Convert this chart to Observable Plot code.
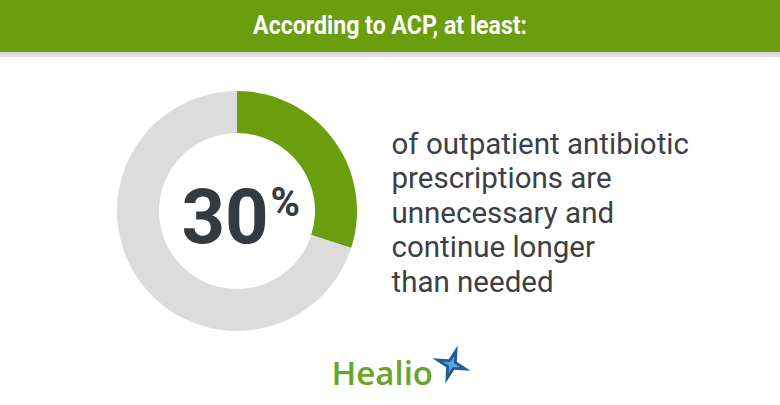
<!DOCTYPE html>
<html>
<head>
<meta charset="utf-8">
<script src="https://cdn.jsdelivr.net/npm/d3@7"></script>
<script src="https://cdn.jsdelivr.net/npm/@observablehq/plot@0.6"></script>
<style>
  html, body { margin: 0; padding: 0; background: #ffffff; width: 780px; height: 405px; overflow: hidden; }
  #header { height: 52px; background: #6a9e0e; display: flex; align-items: center; justify-content: center; }
  #header span { font-family: Roboto, sans-serif; font-weight: 700; font-size: 25px; color: #ffffff; display: inline-block; transform-origin: center; white-space: nowrap; margin-top: -2px; }
  #strip { height: 5px; background: linear-gradient(#d6d6d6, #e4e4e4); }
  #chart svg { display: block; }
</style>
</head>
<body>
<div id="header"><span id="title"></span></div>
<div id="strip"></div>
<div id="chart"></div>
<script>
// ---- data ----
const titleText = "According to ACP, at least:";
const shareLabels = ["Unnecessary / too long", "Other"];
const shareValues = [30, 70];
const shareColors = ["#6a9e0e", "#dcdcdc"];
const headlineValue = "30";
const headlineUnit = "%";
const descriptionLines = [
  "of outpatient antibiotic",
  "prescriptions are",
  "unnecessary and",
  "continue longer",
  "than needed"
];
const brandName = "Healio";

// ---- header ----
const title = document.getElementById("title");
title.textContent = titleText;
const w = title.getBoundingClientRect().width;
title.style.transform = `scaleX(${274 / w})`;

// ---- layout (page pixel coordinates) ----
const top0 = 57;
const W = 780, H = 405 - top0;
const C = {x: 237, y: 211, rOut: 120, rIn: 78};

function donut(index, scales, values, dimensions) {
  const cx = scales.x(C.x), cy = scales.y(C.y);
  const rOut = scales.x(C.x + C.rOut) - cx;
  const rIn = scales.x(C.x + C.rIn) - cx;
  const arcs = d3.pie().sort(null).startAngle(0).endAngle(2 * Math.PI)(shareValues);
  const arc = d3.arc().innerRadius(rIn).outerRadius(rOut);
  const g = d3.create("svg:g").attr("transform", `translate(${cx},${cy})`);
  g.selectAll("path").data(arcs).join("path")
    .attr("d", arc)
    .attr("fill", (d, i) => scales.color(shareLabels[i]));
  return g.node();
}

const star4 = {
  draw(context, size) {
    const R = Math.sqrt(size / Math.PI);
    const r = R * 0.3;
    for (let i = 0; i < 8; i++) {
      const a = (i * Math.PI) / 4 - Math.PI / 2;
      const rr = i % 2 === 0 ? R : r;
      const x = rr * Math.cos(a), y = rr * Math.sin(a);
      if (i === 0) context.moveTo(x, y); else context.lineTo(x, y);
    }
    context.closePath();
  }
};

const plot = Plot.plot({
  width: W,
  height: H,
  margin: 0,
  x: {domain: [0, W], range: [0, W], axis: null},
  y: {domain: [top0, 405], range: [0, H], axis: null},
  color: {domain: shareLabels, range: shareColors},
  marks: [
    donut,
    Plot.text([headlineValue], {
      x: 181, y: 242, text: d => d, textAnchor: "start", lineAnchor: "bottom",
      fontFamily: "Roboto", fontWeight: 700, fontSize: 76, fill: "#353a3e"
    }),
    Plot.text([headlineUnit], {
      x: 270, y: 215, text: d => d, textAnchor: "start", lineAnchor: "bottom",
      fontFamily: "Roboto", fontWeight: 700, fontSize: 40, fill: "#353a3e"
    }),
    Plot.text([descriptionLines.join("\n")], {
      x: 391, y: 291, text: d => d, textAnchor: "start", lineAnchor: "bottom",
      fontFamily: "Roboto", fontSize: 29.5, lineHeight: 1.165, fill: "#3c4045"
    }),
    Plot.text([brandName], {
      x: 331, y: 384, text: d => d, textAnchor: "start", lineAnchor: "bottom",
      fontFamily: "Open Sans", fontWeight: 600, fontSize: 33, fill: "#6aa52a"
    }),
    Plot.dot([brandName], {
      x: 451, y: 364, r: 20, symbol: star4, rotate: 18, fill: "#1d5c9c", stroke: "none"
    }),
    Plot.dot([brandName], {
      x: 451, y: 364, r: 9, symbol: star4, rotate: 18, fill: "#5fa3d8", stroke: "none"
    })
  ]
});

document.getElementById("chart").appendChild(plot);
</script>
</body>
</html>
